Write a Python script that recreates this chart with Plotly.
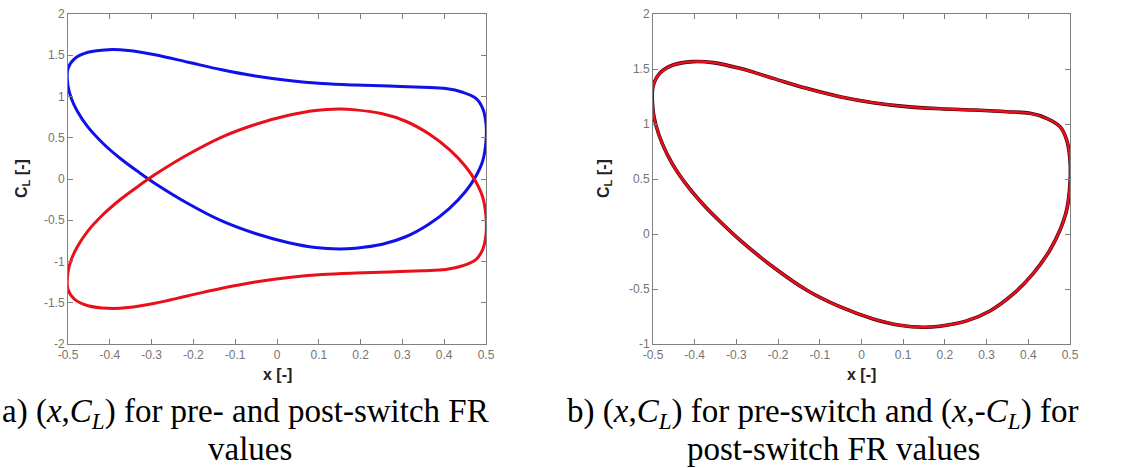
import plotly.graph_objects as go

W, H = 1129, 468

# Pre-switch FR loop (x, C_L) (closed loop)
pre_x = [-0.500, -0.500, -0.484, -0.452, -0.404, -0.356, -0.292, -0.212, -0.132, -0.052,
         0.028, 0.108, 0.188, 0.268, 0.348, 0.404, 0.444, 0.476, 0.492, 0.500,
         0.500, 0.492, 0.476, 0.452, 0.412, 0.364, 0.308, 0.252, 0.188, 0.148,
         0.092, 0.028, -0.052, -0.132, -0.212, -0.290, -0.330, -0.374, -0.416, -0.454,
         -0.478, -0.492, -0.500]
pre_cl = [1.127, 1.340, 1.460, 1.536, 1.567, 1.558, 1.506, 1.415, 1.324, 1.248,
          1.194, 1.158, 1.139, 1.127, 1.112, 1.097, 1.052, 0.976, 0.855, 0.673,
          0.460, 0.218, 0.036, -0.145, -0.358, -0.545, -0.700, -0.790, -0.838, -0.848,
          -0.830, -0.772, -0.661, -0.509, -0.300, -0.060, 0.080, 0.245, 0.430, 0.640,
          0.824, 0.976, 1.127]

# Post-switch FR loop (x, C_L) (closed loop)
post_x = [-0.500, -0.500, -0.484, -0.452, -0.404, -0.356, -0.292, -0.212, -0.132, -0.052,
          0.028, 0.108, 0.188, 0.268, 0.348, 0.404, 0.444, 0.476, 0.492, 0.500,
          0.500, 0.492, 0.476, 0.452, 0.412, 0.364, 0.308, 0.252, 0.188, 0.148,
          0.092, 0.028, -0.052, -0.132, -0.212, -0.290, -0.330, -0.374, -0.416, -0.454,
          -0.478, -0.492, -0.500]
post_cl = [-1.127, -1.340, -1.460, -1.536, -1.567, -1.558, -1.506, -1.415, -1.324, -1.248,
           -1.194, -1.158, -1.139, -1.127, -1.112, -1.097, -1.052, -0.976, -0.855, -0.673,
           -0.460, -0.218, -0.036, 0.145, 0.358, 0.545, 0.700, 0.790, 0.838, 0.848,
           0.830, 0.772, 0.661, 0.509, 0.300, 0.060, -0.080, -0.245, -0.430, -0.640,
           -0.824, -0.976, -1.127]

x_ticks = [-0.5, -0.4, -0.3, -0.2, -0.1, 0, 0.1, 0.2, 0.3, 0.4, 0.5]
x_tick_labels = ["-0.5", "-0.4", "-0.3", "-0.2", "-0.1", "0", "0.1", "0.2", "0.3", "0.4", "0.5"]
ya_ticks = [-2, -1.5, -1, -0.5, 0, 0.5, 1, 1.5, 2]
ya_tick_labels = ["-2", "-1.5", "-1", "-0.5", "0", "0.5", "1", "1.5", "2"]
yb_ticks = [-1, -0.5, 0, 0.5, 1, 1.5, 2]
yb_tick_labels = ["-1", "-0.5", "0", "0.5", "1", "1.5", "2"]

caption_a = ["a) (<i>x</i>,<i>C<sub>L</sub></i>) for pre- and post-switch FR", "values"]
caption_b = ["b) (<i>x</i>,<i>C<sub>L</sub></i>) for pre-switch and (<i>x</i>,-<i>C<sub>L</sub></i>) for",
             "post-switch FR values"]

BLUE = "#1010e8"
RED = "#e8101a"
DARK = "#3a0010"
GRAY = "#808080"

fig = go.Figure()
# panel a
fig.add_trace(go.Scatter(x=pre_x, y=pre_cl, mode="lines", line=dict(color=BLUE, width=3, shape="spline"),
                         xaxis="x", yaxis="y", showlegend=False))
fig.add_trace(go.Scatter(x=post_x, y=post_cl, mode="lines", line=dict(color=RED, width=3, shape="spline"),
                         xaxis="x", yaxis="y", showlegend=False))
# panel b
fig.add_trace(go.Scatter(x=pre_x, y=pre_cl, mode="lines", line=dict(color=DARK, width=3.6, shape="spline"),
                         xaxis="x2", yaxis="y2", showlegend=False))
fig.add_trace(go.Scatter(x=post_x, y=[-v for v in post_cl], mode="lines",
                         line=dict(color=RED, width=2.4, shape="spline"),
                         xaxis="x2", yaxis="y2", showlegend=False))

def px_x(p):
    return p / W

def px_y(p):
    return 1 - p / H

tick_font = dict(family="Arial, Liberation Sans, sans-serif", size=12, color="#747474")
axis_common = dict(showline=True, linecolor=GRAY, linewidth=1, mirror="ticks", ticks="inside",
                   ticklen=5, tickcolor=GRAY, tickwidth=1, showgrid=False, zeroline=False,
                   tickfont=tick_font, automargin=False, fixedrange=True)

ydom = [px_y(344), px_y(14)]
fig.update_layout(
    width=W, height=H, margin=dict(l=0, r=0, t=0, b=0),
    paper_bgcolor="white", plot_bgcolor="white", template="none",
    xaxis=dict(domain=[px_x(68), px_x(486)], range=[-0.5, 0.5], tickvals=x_ticks,
               ticktext=x_tick_labels, anchor="y", **axis_common),
    yaxis=dict(domain=ydom, range=[-2, 2], tickvals=ya_ticks, ticktext=ya_tick_labels,
               anchor="x", **axis_common),
    xaxis2=dict(domain=[px_x(653), px_x(1070)], range=[-0.5, 0.5], tickvals=x_ticks,
                ticktext=x_tick_labels, anchor="y2", **axis_common),
    yaxis2=dict(domain=ydom, range=[-1, 2], tickvals=yb_ticks, ticktext=yb_tick_labels,
                anchor="x2", **axis_common),
)

title_font = dict(family="Arial, Liberation Sans, sans-serif", size=16, color="#222222")
ann = []
for cx, ly_x in [(277, 22), (861, 604)]:
    ann.append(dict(text="<b>x [-]</b>", x=px_x(cx), y=px_y(374), xref="paper", yref="paper",
                    xanchor="center", yanchor="middle", showarrow=False, font=title_font))
    ann.append(dict(text="<b>C<sub>L</sub> [-]</b>", x=px_x(ly_x), y=px_y(179), xref="paper",
                    yref="paper", xanchor="center", yanchor="middle", showarrow=False,
                    textangle=-90, font=title_font))

cap_font = dict(family="Liberation Serif, Times New Roman, serif", size=33, color="black")
for lines, centers in [(caption_a, [246, 250]), (caption_b, [822, 833])]:
    for txt, cx, cy in zip(lines, centers, [413, 449]):
        ann.append(dict(text=txt, x=px_x(cx), y=px_y(cy), xref="paper", yref="paper",
                        xanchor="center", yanchor="middle", showarrow=False, font=cap_font))
fig.update_layout(annotations=ann)

fig.write_html("out.html", config={"displayModeBar": False, "staticPlot": True},
               post_script="document.body.style.margin='0px';")
